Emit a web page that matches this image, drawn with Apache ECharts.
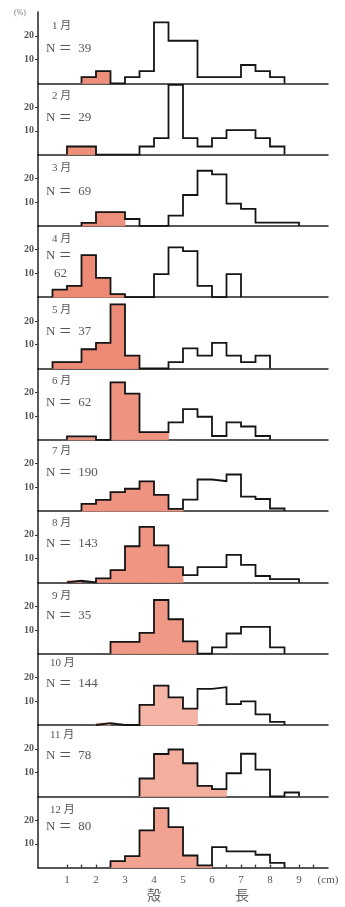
<!DOCTYPE html>
<html><head><meta charset="utf-8">
<script src="https://cdn.jsdelivr.net/npm/echarts@6/dist/echarts.min.js"></script>
<style>html,body{margin:0;padding:0;background:#fff}#c{width:345px;height:907px}</style>
</head><body><div id="c"></div>
<script>
// ---- data: [bin left edge (cm), percent] ; bins are 0.5 cm wide ----
const months = ['1 月','2 月','3 月','4 月','5 月','6 月','7 月','8 月','9 月','10 月','11 月','12 月'];
const counts = [39, 29, 69, 62, 37, 62, 190, 143, 35, 144, 78, 80];
const xTickLabels = [1, 2, 3, 4, 5, 6, 7, 8, 9];
const yTickLabels = [10, 20];
const xUnit = '(cm)';
const xTitle = ['殻', '長'];
const yUnit = '(%)';

const red1 = [[1.5,2.6],[2.0,5.1]];
const open1 = [[3.0,2.6],[3.5,5.1],[4.0,25.6],[4.5,17.9],[5.0,17.9],[5.5,2.6],[6.0,2.6],[6.5,2.6],[7.0,7.7],[7.5,5.1],[8.0,2.6]];
const red2 = [[1.0,3.4],[1.5,3.4]];
const open2 = [[3.5,3.4],[4.0,6.9],[4.5,29.3],[5.0,6.9],[5.5,3.4],[6.0,6.9],[6.5,10.3],[7.0,10.3],[7.5,6.9],[8.0,3.4]];
const red3 = [[1.5,1.3],[2.0,5.8],[2.5,5.8]];
const open3 = [[3.0,2.9],[4.5,4.3],[5.0,13.0],[5.5,23.2],[6.0,21.7],[6.5,9.4],[7.0,7.2],[7.5,1.4],[8.0,1.4],[8.5,1.4]];
const red4 = [[0.5,3.2],[1.0,4.8],[1.5,17.7],[2.0,8.1],[2.5,1.3]];
const open4 = [[4.0,9.7],[4.5,21.0],[5.0,19.4],[5.5,4.8],[6.5,9.7]];
const red5 = [[0.5,2.7],[1.0,2.7],[1.5,8.1],[2.0,10.8],[2.5,27.0],[3.0,5.4]];
const open5 = [[4.5,2.7],[5.0,8.5],[5.5,5.4],[6.0,10.8],[6.5,5.4],[7.0,2.7],[7.5,5.4]];
const red6 = [[1.0,1.4],[1.5,1.4],[2.5,24.2],[3.0,19.4],[3.5,3.2],[4.0,3.2]];
const open6 = [[4.5,7.3],[5.0,12.9],[5.5,9.7],[6.0,1.6],[6.5,7.3],[7.0,5.6],[7.5,1.6]];
const red7 = [[1.5,3.0],[2.0,4.7],[2.5,8.0],[3.0,9.4],[3.5,12.5],[4.0,6.8],[4.5,0.9]];
const open7 = [[5.0,4.8],[5.5,13.3],[6.0,12.6],[6.5,15.4],[7.0,6.1],[7.5,5.1],[8.0,1.1]];
const red8 = [[1.0,0.7],[2.0,1.7],[2.5,5.2],[3.0,15.2],[3.5,23.4],[4.0,15.6],[4.5,6.4]];
const open8 = [[5.0,3.1],[5.5,6.4],[6.0,6.4],[6.5,11.6],[7.0,7.4],[7.5,2.7],[8.0,1.4],[8.5,1.4]];
const red9 = [[2.5,5.0],[3.0,5.0],[3.5,8.8],[4.0,22.6],[4.5,14.5],[5.0,5.2]];
const open9 = [[6.0,2.7],[6.5,8.5],[7.0,11.3],[7.5,11.3],[8.0,2.7]];
const red10 = [[2.0,0.8],[3.5,8.5],[4.0,16.6],[4.5,11.6],[5.0,6.9]];
const open10 = [[5.5,15.2],[6.0,15.9],[6.5,8.8],[7.0,9.9],[7.5,4.5],[8.0,1.3]];
const red11 = [[3.5,7.5],[4.0,17.8],[4.5,19.7],[5.0,13.9],[5.5,4.4],[6.0,3.0]];
const open11 = [[6.5,9.7],[7.0,17.9],[7.5,11.2],[8.5,1.6]];
const red12 = [[2.5,2.7],[3.0,4.8],[3.5,15.7],[4.0,25.0],[4.5,17.0],[5.0,5.1],[5.5,0.9]];
const open12 = [[6.0,8.6],[6.5,6.8],[7.0,6.8],[7.5,5.4],[8.0,2.0]];

const redSets = [red1,red2,red3,red4,red5,red6,red7,red8,red9,red10,red11,red12];
const openSets = [open1,open2,open3,open4,open5,open6,open7,open8,open9,open10,open11,open12];

// ---- layout / style ----
const BIN = 0.5;
const TOP = 12, PH = 71.3, LEFT = 38, RIGHT = 17;
const monthY = [28, 98, 170, 241, 312, 383, 453, 525, 598, 665, 737, 812];
const nY = [50, 119, 193, 257, 333, 404, 474, 545, 617, 685, 757, 828];
const fills = ['#ee8f7c','#ee8f7c','#ee8f7c','#ec8a76','#ec8a76','#ee9380','#ee9380','#ef9582','#ef9885','#f5b4a5','#f4ae9e','#f1a290'];
const SERIF = "'Liberation Serif', 'Noto Sans CJK JP', serif";
const TXT = '#555';

function outline(red, open) {
  const m = {};
  red.concat(open).forEach(([x, h]) => { m[Math.round(x / BIN)] = h; });
  const keys = Object.keys(m).map(Number);
  const lo = Math.min(...keys), hi = Math.max(...keys);
  const pts = [[lo * BIN, 0]];
  for (let k = lo; k <= hi; k++) pts.push([k * BIN, m[k] || 0]);
  pts.push([(hi + 1) * BIN, 0]);
  return pts;
}

const grids = [], xAxes = [], yAxes = [], series = [], graphics = [];
for (let i = 0; i < 12; i++) {
  const last = i === 11;
  grids.push({ left: LEFT, right: RIGHT, top: TOP + i * PH, height: PH });
  xAxes.push({
    gridIndex: i, type: 'value', min: 0, max: 10,
    axisLine: { show: true, lineStyle: { color: '#222', width: 1.5 } },
    splitLine: { show: false },
    axisTick: last ? { show: true, inside: true, length: 3, lineStyle: { color: '#333', width: 1.3 },
      customValues: [1,1.5,2,2.5,3,3.5,4,4.5,5,5.5,6,6.5,7,7.5,8,8.5,9,9.5] } : { show: false },
    axisLabel: last ? { show: true, customValues: xTickLabels.concat([10]), margin: 7,
      fontFamily: SERIF, fontSize: 11, color: TXT,
      formatter: v => (v === 10 ? xUnit : String(v)) } : { show: false }
  });
  yAxes.push({
    gridIndex: i, type: 'value', min: 0, max: 30, interval: 10,
    axisLine: { show: true, lineStyle: { color: '#222', width: 1.5 } },
    splitLine: { show: false },
    axisTick: { show: true, length: 3, customValues: yTickLabels, lineStyle: { color: '#333' } },
    axisLabel: { show: true, customValues: yTickLabels, margin: 4, fontFamily: SERIF,
      fontSize: 10, fontWeight: 'bold', color: '#555' }
  });
  const col = fills[i];
  series.push({
    type: 'custom', xAxisIndex: i, yAxisIndex: i, z: 1, silent: true,
    dimensions: ['x', 'y'], encode: { x: 0, y: 1 },
    data: redSets[i],
    renderItem: (params, api) => {
      const x0 = api.value(0), h = api.value(1);
      const a = api.coord([x0, h]), b = api.coord([x0 + BIN, 0]);
      return { type: 'rect', shape: { x: a[0], y: a[1], width: b[0] - a[0], height: b[1] - a[1] },
        style: { fill: col, stroke: col, lineWidth: 0.8 } };
    }
  });
  series.push({
    type: 'line', xAxisIndex: i, yAxisIndex: i, z: 3, silent: true,
    step: 'end', symbol: 'none', clip: false,
    lineStyle: { color: '#151515', width: 1.8, join: 'miter' },
    data: outline(redSets[i], openSets[i])
  });
  graphics.push({ type: 'text', left: i >= 9 ? 50 : 52, top: monthY[i] - 7,
    style: { text: months[i], font: `11px ${SERIF}`, fill: TXT } });
  if (i === 3) {
    graphics.push({ type: 'text', left: 46, top: nY[i] - 8, style: { text: 'N ＝', font: `13px ${SERIF}`, fill: TXT } });
    graphics.push({ type: 'text', left: 54, top: 275 - 8, style: { text: String(counts[i]), font: `13px ${SERIF}`, fill: TXT } });
  } else {
    graphics.push({ type: 'text', left: 46, top: nY[i] - 8,
      style: { text: 'N ＝  ' + counts[i], font: `13px ${SERIF}`, fill: TXT } });
  }
}
graphics.push({ type: 'text', left: 14, top: 9, style: { text: yUnit, font: `8px ${SERIF}`, fill: '#777' } });
graphics.push({ type: 'text', left: 147, top: 889, style: { text: xTitle[0], font: `14px ${SERIF}`, fill: '#666' } });
graphics.push({ type: 'text', left: 235, top: 889, style: { text: xTitle[1], font: `14px ${SERIF}`, fill: '#666' } });

const chart = echarts.init(document.getElementById('c'), null, { renderer: 'canvas' });
chart.setOption({
  animation: false,
  backgroundColor: '#fff',
  grid: grids, xAxis: xAxes, yAxis: yAxes, series: series, graphic: graphics
});
</script></body></html>
